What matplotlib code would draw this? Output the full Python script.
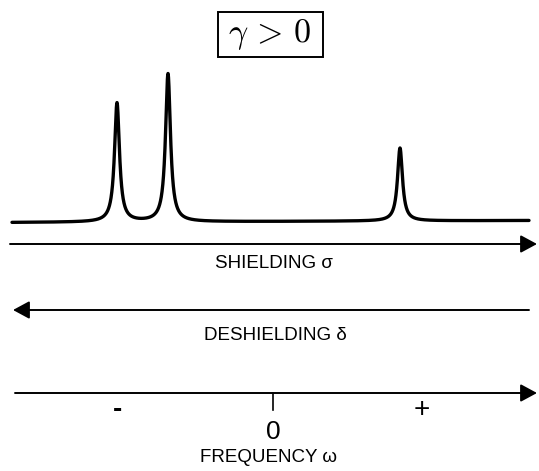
import numpy as np
import matplotlib
matplotlib.use("Agg")
import matplotlib.pyplot as plt
from matplotlib.patches import Rectangle

# spectrum data (x in channel units across the page, heights in same units)
peak_pos = [117, 168, 400]
peak_height = [119, 148, 73]
peak_hwhm = [3.0, 3.0, 3.0]
baseline_ends = [222.5, 220.5]
spec_range = [12, 529]

title_text = r"$\gamma \,>\, 0$"
axis_labels = ["SHIELDING \u03c3", "DESHIELDING \u03b4", "FREQUENCY \u03c9"]
freq_marks = ["-", "0", "+"]

plt.rcParams["font.family"] = ["Liberation Sans", "DejaVu Sans"]
plt.rcParams["mathtext.fontset"] = "cm"

fig = plt.figure(figsize=(5.39, 4.71), dpi=100)
ax = fig.add_axes([0, 0, 1, 1])
ax.set_xlim(0, 539)
ax.set_ylim(471, 0)
ax.axis("off")

# spectrum: sum of lorentzians on a sloping baseline
x = np.linspace(spec_range[0], spec_range[1], 6000)
base = np.interp(x, spec_range, baseline_ends)
signal = np.zeros_like(x)
for pos, h, g in zip(peak_pos, peak_height, peak_hwhm):
    signal += h * g**2 / ((x - pos) ** 2 + g**2)
ax.plot(x, base - signal, color="black", lw=2.4, solid_joinstyle="round",
        solid_capstyle="round")


def arrow(x0, x1, y):
    ax.annotate("", xy=(x1, y), xytext=(x0, y),
                arrowprops=dict(arrowstyle="-|>,head_length=0.5,head_width=0.27",
                                mutation_scale=20, lw=1.4, color="black",
                                shrinkA=0, shrinkB=0))


arrow(10, 537, 244)   # shielding
arrow(529, 13, 310)   # deshielding
arrow(15, 537, 393)   # frequency

ax.text(274, 263, axis_labels[0], ha="center", va="center", fontsize=13.5)
ax.text(275, 336, axis_labels[1], ha="center", va="center", fontsize=13.5)
ax.text(268, 457, axis_labels[2], ha="center", va="center", fontsize=13.5)

# zero tick and sign marks
ax.plot([273, 273], [393, 410], color="black", lw=1.2)
ax.text(117, 410, freq_marks[0], ha="center", va="center", fontsize=20,
        fontweight="bold")
ax.text(273, 432, freq_marks[1], ha="center", va="center", fontsize=19)
ax.text(422, 410, freq_marks[2], ha="center", va="center", fontsize=20)

# boxed title
ax.add_patch(Rectangle((218, 12), 105, 45, fill=False, ec="black", lw=1.4))
ax.text(270, 35, title_text, ha="center", va="center", fontsize=24.5)

fig.savefig("out.png", dpi=100)
